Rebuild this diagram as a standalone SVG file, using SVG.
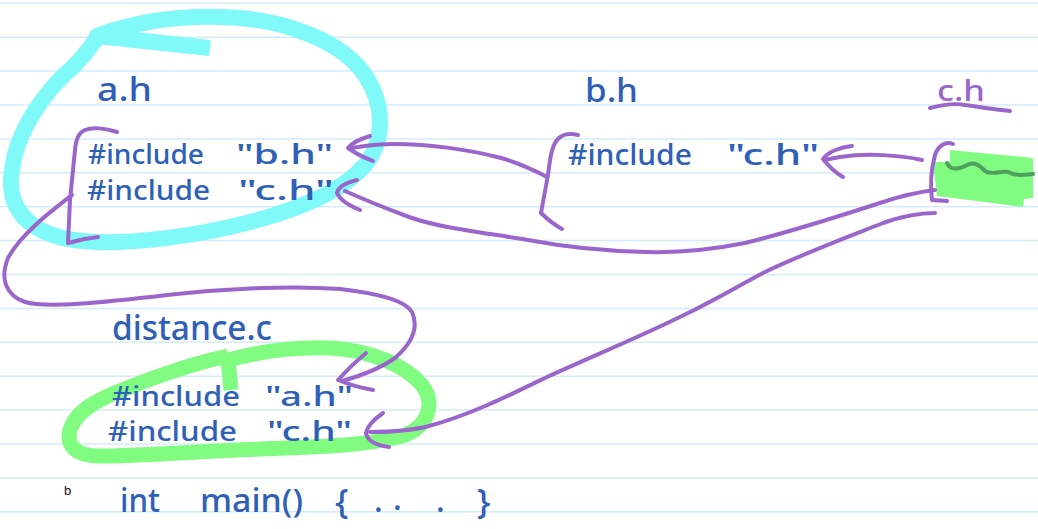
<svg xmlns="http://www.w3.org/2000/svg" width="1038" height="529" viewBox="0 0 1038 529">
<style>
.rule{stroke:#d4ebf8;stroke-width:1.5}
.hlc{fill:none;stroke:#80f9f9;stroke-width:16;stroke-linejoin:round}
.hlg{fill:none;stroke:#80fc80;stroke-width:15;stroke-linejoin:round}
.pen{fill:none;stroke:#9a66cc;stroke-width:4;stroke-linecap:round;stroke-linejoin:round}
.hw{font-family:"Noto Sans","DejaVu Sans",sans-serif;font-weight:500;fill:#2f60b8}
.hwp{font-family:"Noto Sans","DejaVu Sans",sans-serif;font-weight:500;fill:#9a66cc}
</style>
<rect width="1038" height="529" fill="#ffffff"/>
<g id="rules">
<line class="rule" x1="0" y1="3.3" x2="1038" y2="3.3"/>
<line class="rule" x1="0" y1="37.2" x2="1038" y2="37.2"/>
<line class="rule" x1="0" y1="71.1" x2="1038" y2="71.1"/>
<line class="rule" x1="0" y1="105" x2="1038" y2="105"/>
<line class="rule" x1="0" y1="138.9" x2="1038" y2="138.9"/>
<line class="rule" x1="0" y1="172.8" x2="1038" y2="172.8"/>
<line class="rule" x1="0" y1="206.7" x2="1038" y2="206.7"/>
<line class="rule" x1="0" y1="240.6" x2="1038" y2="240.6"/>
<line class="rule" x1="0" y1="274.5" x2="1038" y2="274.5"/>
<line class="rule" x1="0" y1="308.4" x2="1038" y2="308.4"/>
<line class="rule" x1="0" y1="342.3" x2="1038" y2="342.3"/>
<line class="rule" x1="0" y1="376.2" x2="1038" y2="376.2"/>
<line class="rule" x1="0" y1="410.1" x2="1038" y2="410.1"/>
<line class="rule" x1="0" y1="444" x2="1038" y2="444"/>
<line class="rule" x1="0" y1="477.9" x2="1038" y2="477.9"/>
<line class="rule" x1="0" y1="511.8" x2="1038" y2="511.8"/>
</g>
<g id="node-a">
<path class="hlc" stroke-linecap="butt" d="M210,48 L97,36 C140,20 180,16 220,17 C290,18 345,45 365,75 C385,105 385,140 365,165 C335,200 270,220 200,233 C140,243 80,248 45,232 C15,218 8,195 12,170 C16,135 40,95 75,65 C85,55 92,45 97,38"/>
<text class="hw" x="97" y="101" font-size="32" textLength="55" lengthAdjust="spacingAndGlyphs">a.h</text>
<text class="hw" x="88" y="164" font-size="27.5" textLength="116" lengthAdjust="spacingAndGlyphs">#include</text>
<text class="hw" x="236" y="164" font-size="27.5" textLength="97" lengthAdjust="spacingAndGlyphs">"b.h"</text>
<text class="hw" x="87" y="200" font-size="27.5" textLength="123" lengthAdjust="spacingAndGlyphs">#include</text>
<text class="hw" x="238" y="200" font-size="27.5" textLength="96" lengthAdjust="spacingAndGlyphs">"c.h"</text>
<path class="pen" d="M117,132 C105,128 92,127 85,130 C78,133 76,140 75,150 L70,200 L68,243 C78,240 88,238 98,237"/>
</g>
<g id="node-b">
<text class="hw" x="585" y="102" font-size="32" textLength="53" lengthAdjust="spacingAndGlyphs">b.h</text>
<text class="hw" x="568" y="165" font-size="28" textLength="124" lengthAdjust="spacingAndGlyphs">#include</text>
<text class="hw" x="727" y="165" font-size="28" textLength="92" lengthAdjust="spacingAndGlyphs">"c.h"</text>
<path class="pen" d="M578,135 C570,133 562,134 557,140 C551,148 550,160 548,175 L541,213 C548,220 555,225 562,229"/>
</g>
<g id="node-c">
<polygon fill="#80fc80" points="950,150 1033,158 1033,198 1024,199 1023,207 937,196 933,162 950,162"/>
<path fill="none" stroke="#4f9f5f" stroke-width="4" stroke-linecap="round" d="M947,163 C950,170 958,170 967,165 C975,161 980,166 985,171 C992,176 1002,170 1008,172 C1015,176 1022,175 1033,174"/>
<text class="hwp" x="937" y="101" font-size="29" textLength="48" lengthAdjust="spacingAndGlyphs">c.h</text>
<path class="pen" d="M930,108 C945,104 955,103 965,105 C985,108 1000,110 1010,111"/>
<path class="pen" d="M953,144 C945,141 938,146 935,155 C931,170 930,185 932,200 L947,201"/>
</g>
<g id="node-distance">
<path class="hlg" stroke-linecap="butt" d="M231,390 L228,360 C265,350 300,347 330,348 C370,350 405,365 422,385 C435,402 430,425 405,435 C375,445 320,447 260,449 C200,451 140,456 100,456 C75,456 66,445 70,430 C76,410 100,398 130,387 C160,375 195,363 228,356"/>
<text class="hw" x="112" y="340" font-size="34" textLength="160" lengthAdjust="spacingAndGlyphs">distance.c</text>
<text class="hw" x="112" y="406" font-size="27" textLength="128" lengthAdjust="spacingAndGlyphs">#include</text>
<text class="hw" x="265" y="406" font-size="27" textLength="88" lengthAdjust="spacingAndGlyphs">"a.h"</text>
<text class="hw" x="108" y="441" font-size="27" textLength="129" lengthAdjust="spacingAndGlyphs">#include</text>
<text class="hw" x="267" y="441" font-size="27" textLength="85" lengthAdjust="spacingAndGlyphs">"c.h"</text>
<text class="hw" x="120" y="512" font-size="33" textLength="40" lengthAdjust="spacingAndGlyphs">int</text>
<text class="hw" x="200" y="512" font-size="33" textLength="103" lengthAdjust="spacingAndGlyphs">main()</text>
<text class="hw" x="335" y="514" font-size="35">{</text>
<text class="hw" x="374" y="512" font-size="32">.</text>
<text class="hw" x="393" y="510" font-size="32">.</text>
<text class="hw" x="436" y="512" font-size="32">.</text>
<text class="hw" x="477" y="514" font-size="35">}</text>
<text x="64" y="495" font-family="Liberation Sans, Arial, sans-serif" font-size="13" fill="#111111">b</text>
</g>
<g id="connectors">
<path class="pen" d="M547,177 C530,168 510,160 497,157 C470,150 430,144 395,144 C375,144 365,146 352,148"/>
<path class="pen" d="M370,136 C360,139 352,143 348,148 C355,153 365,158 373,161"/>
<path class="pen" d="M922,160 C900,155 867,153 840,157 L824,160"/>
<path class="pen" d="M852,146 C840,147 828,152 823,159 C830,168 836,173 843,177"/>
<path class="pen" d="M935,190 C910,193 895,198 883,202 C840,216 790,232 745,243 C710,250 680,253 646,252 C600,251 560,246 528,240 C480,232 440,228 409,217 C385,208 365,200 345,191"/>
<path class="pen" d="M357,180 C345,183 338,188 337,193 C340,200 350,206 360,210"/>
<path class="pen" d="M935,213 C915,213 900,217 883,223 C840,240 800,255 765,272 C740,285 715,300 686,314 C640,337 590,357 547,377 C510,395 470,415 429,426 C410,431 390,432 370,432"/>
<path class="pen" d="M383,413 C373,420 367,427 366,433 C367,440 375,445 389,447"/>
<path class="pen" d="M72,195 C50,212 20,235 8,258 C0,278 5,295 25,302 C45,308 100,303 167,295 C220,289 290,285 340,289 C375,293 405,300 412,312 C420,330 410,345 395,358 C378,370 360,376 342,381"/>
<path class="pen" d="M366,353 C355,362 345,372 338,380 C350,385 362,388 373,390"/>
</g>
</svg>
